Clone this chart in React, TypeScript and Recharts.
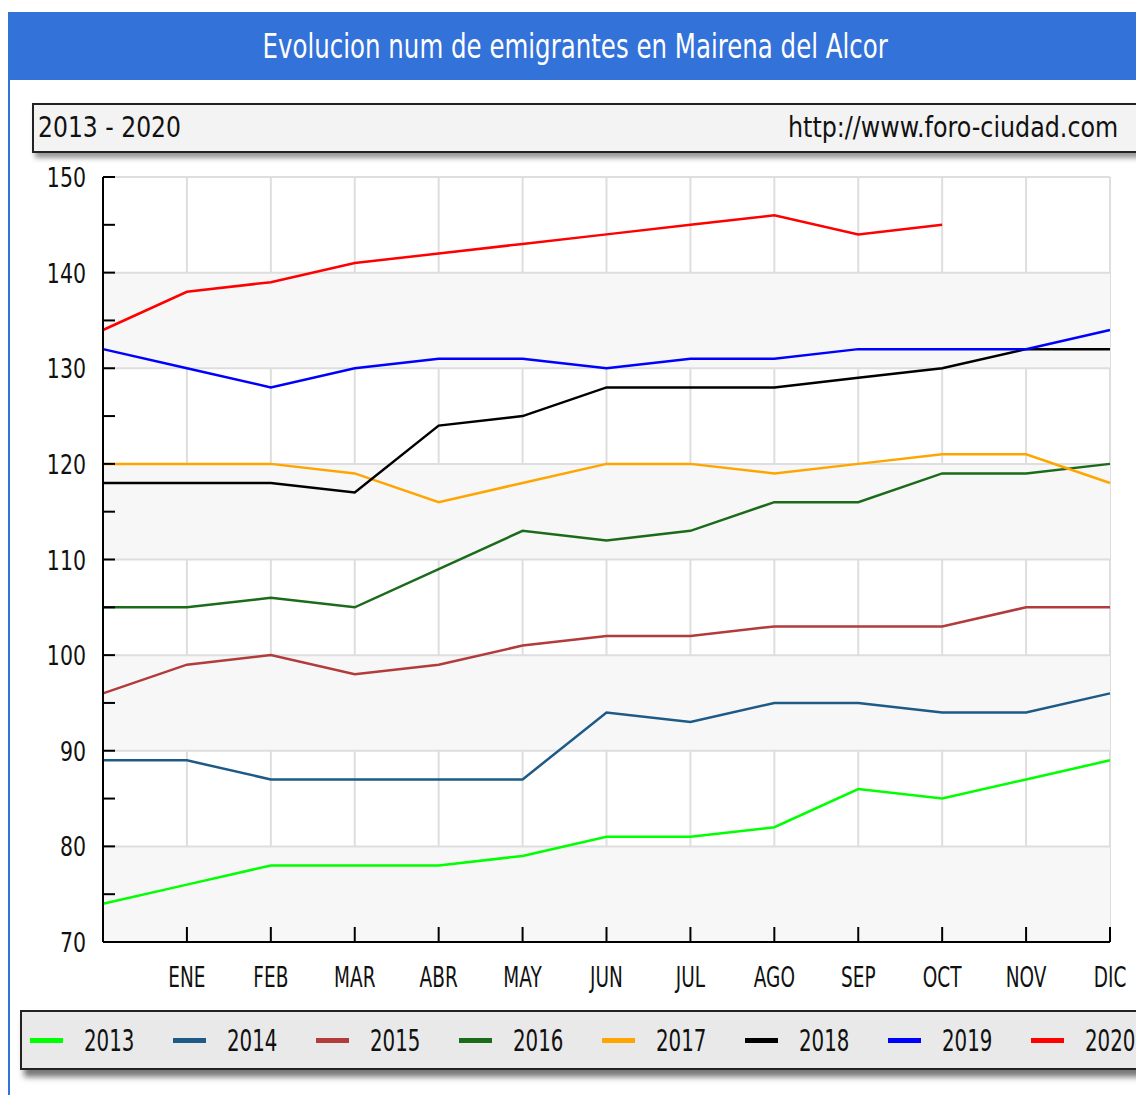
import React from 'react';
import { LineChart, Line, XAxis, YAxis, CartesianGrid, ReferenceLine, ReferenceArea } from 'recharts';

// meses (el primer punto no lleva etiqueta)
const meses = ['', 'ENE', 'FEB', 'MAR', 'ABR', 'MAY', 'JUN', 'JUL', 'AGO', 'SEP', 'OCT', 'NOV', 'DIC'];

const v2013 = [74, 76, 78, 78, 78, 79, 81, 81, 82, 86, 85, 87, 89];
const v2014 = [89, 89, 87, 87, 87, 87, 94, 93, 95, 95, 94, 94, 96];
const v2015 = [96, 99, 100, 98, 99, 101, 102, 102, 103, 103, 103, 105, 105];
const v2016 = [105, 105, 106, 105, 109, 113, 112, 113, 116, 116, 119, 119, 120];
const v2017 = [120, 120, 120, 119, 116, 118, 120, 120, 119, 120, 121, 121, 118];
const v2018 = [118, 118, 118, 117, 124, 125, 128, 128, 128, 129, 130, 132, 132];
const v2019 = [132, 130, 128, 130, 131, 131, 130, 131, 131, 132, 132, 132, 134];
const v2020 = [134, 138, 139, 141, 142, 143, 144, 145, 146, 144, 145, null, null];

const yTicks = [70, 75, 80, 85, 90, 95, 100, 105, 110, 115, 120, 125, 130, 135, 140, 145, 150];
const lineasGrid = [80, 90, 100, 110, 120, 130, 140, 150];
const bandas = [[70, 80], [90, 100], [110, 120], [130, 140]];

const series = [
  { key: '2013', values: v2013, color: '#00ff00' },
  { key: '2014', values: v2014, color: '#1d5a86' },
  { key: '2015', values: v2015, color: '#b23b3b' },
  { key: '2016', values: v2016, color: '#1b6b1b' },
  { key: '2017', values: v2017, color: '#ffa500' },
  { key: '2018', values: v2018, color: '#000000' },
  { key: '2019', values: v2019, color: '#0000ff' },
  { key: '2020', values: v2020, color: '#ff0000' },
];

const data = meses.map((m, i) => {
  const row: any = { mes: m };
  series.forEach(s => { row[s.key] = s.values[i]; });
  return row;
});

const FONT = '"DejaVu Sans", sans-serif';

const XTick = (props: any) => {
  const { x, y, payload } = props;
  return (
    <g>
      <line x1={x} y1={y} x2={x} y2={y - 15} stroke="#000" strokeWidth={2} />
      <text transform={`translate(${x},${y + 45}) scale(0.66,1)`} textAnchor="middle" fontFamily={FONT} fontSize={28} fill="#111">
        {payload.value}
      </text>
    </g>
  );
};

const YTick = (props: any) => {
  const { x, y, payload } = props;
  return (
    <g>
      <line x1={x} y1={y} x2={x + 12} y2={y} stroke="#000" strokeWidth={2} />
      {payload.value % 10 === 0 && (
        <text transform={`translate(${x - 17},${y + 10}) scale(0.76,1)`} textAnchor="end" fontFamily={FONT} fontSize={27} fill="#111">
          {payload.value}
        </text>
      )}
    </g>
  );
};

export default function App() {
  return (
    <div style={{ position: 'relative', width: 1136, height: 1095, background: '#fff', overflow: 'hidden', fontFamily: FONT }}>
      <style>{`body{margin:0}`}</style>
      {/* marco azul */}
      <div style={{ position: 'absolute', left: 8, top: 12, width: 2, height: 1083, background: '#3372d9' }} />
      <div style={{ position: 'absolute', left: 8, top: 12, width: 1128, height: 68, background: '#3372d9', color: '#fff', fontSize: 34, display: 'flex', alignItems: 'center', justifyContent: 'center' }}>
        <span style={{ display: 'inline-block', marginLeft: 6, whiteSpace: 'nowrap', transform: 'scaleX(0.72)' }}>Evolucion num de emigrantes en Mairena del Alcor</span>
      </div>
      <div style={{ position: 'absolute', left: 32, top: 103, width: 1110, height: 46, border: '2px solid #222', background: '#f3f3f3', boxShadow: '3px 5px 5px #999', fontSize: 29, color: '#111' }}>
        <span style={{ position: 'absolute', left: 4, top: 5, transformOrigin: 'left', transform: 'scaleX(0.81)', whiteSpace: 'nowrap' }}>2013 - 2020</span>
        <span style={{ position: 'absolute', left: 754, top: 5, transformOrigin: 'left', transform: 'scaleX(0.82)', whiteSpace: 'nowrap' }}>http://www.foro-ciudad.com</span>
      </div>

      <div style={{ position: 'absolute', left: 0, top: 0 }}>
        <LineChart width={1136} height={1000} data={data} margin={{ top: 177, right: 26, left: 43, bottom: 8 }}>
          {bandas.map(b => (
            <ReferenceArea key={b[0]} y1={b[0]} y2={b[1]} fill="#f7f7f7" fillOpacity={1} stroke="none" />
          ))}
          <CartesianGrid horizontal={false} stroke="#dedede" strokeWidth={2} />
          {lineasGrid.map(v => (
            <ReferenceLine key={v} y={v} stroke="#dedede" strokeWidth={2} />
          ))}
          <XAxis dataKey="mes" height={50} tickSize={0} tickMargin={0} interval={0} tick={<XTick />} axisLine={{ stroke: '#000', strokeWidth: 2 }} />
          <YAxis domain={[70, 150]} ticks={yTicks} width={60} tickSize={0} tickMargin={0} interval={0} tick={<YTick />} axisLine={{ stroke: '#000', strokeWidth: 2 }} />
          {series.map(s => (
            <Line key={s.key} dataKey={s.key} type="linear" stroke={s.color} strokeWidth={2.5} dot={false} activeDot={false} isAnimationActive={false} connectNulls={false} />
          ))}
        </LineChart>
      </div>

      <div style={{ position: 'absolute', left: 20, top: 1010, width: 1120, height: 56, border: '2px solid #222', background: '#e9e9e9', boxShadow: '4px 7px 6px #777', display: 'flex', alignItems: 'center' }}>
        {series.map((s, i) => (
          <div key={s.key} style={{ position: 'absolute', left: 8 + i * 143, display: 'flex', alignItems: 'center' }}>
            <span style={{ display: 'inline-block', width: 33, height: 5, background: s.color }} />
            <span style={{ display: 'inline-block', marginLeft: 21, fontSize: 30, color: '#111', transformOrigin: 'left', transform: 'scaleX(0.66)' }}>{s.key}</span>
          </div>
        ))}
      </div>
    </div>
  );
}
